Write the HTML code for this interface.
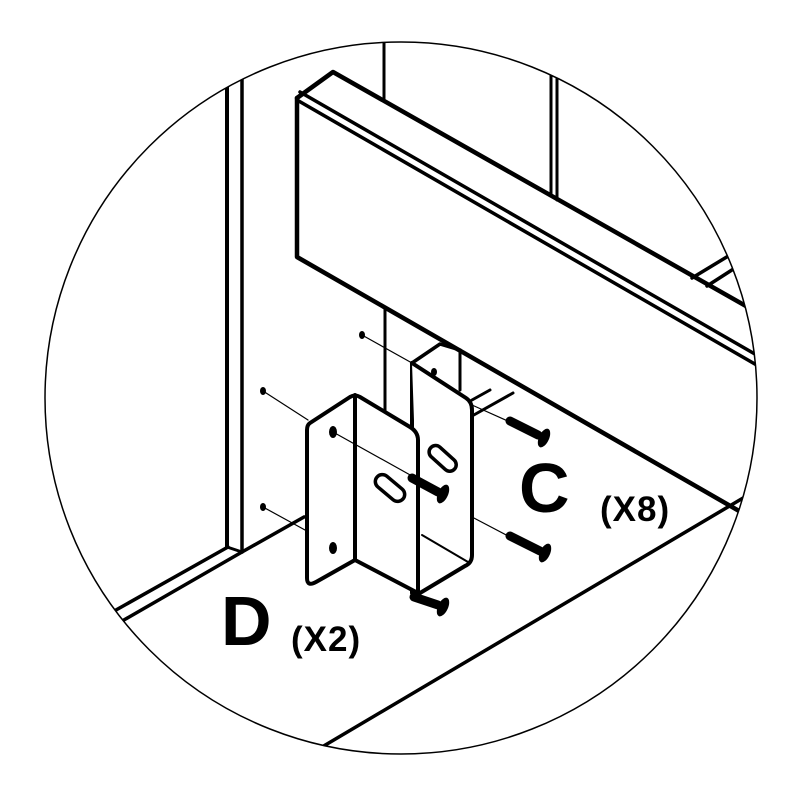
<!DOCTYPE html>
<html><head><style>html,body{margin:0;padding:0;background:#fff}svg{display:block}</style></head>
<body>
<svg width="800" height="800" viewBox="0 0 800 800" xmlns="http://www.w3.org/2000/svg">
<defs><clipPath id="c"><circle cx="401" cy="398" r="356"/></clipPath></defs>
<rect width="800" height="800" fill="#fff"/>
<g clip-path="url(#c)" stroke="#000" fill="none" stroke-linecap="round" stroke-linejoin="round">
  <line x1="227" y1="30" x2="227" y2="547" stroke-width="4"/>
  <line x1="242" y1="30" x2="242" y2="552" stroke-width="3.5"/>
  <line x1="227" y1="547" x2="242" y2="552" stroke-width="3"/>
  <line x1="228" y1="547" x2="100" y2="619" stroke-width="3.5"/>
  <line x1="242" y1="552" x2="110" y2="628" stroke-width="3.5"/>
  <line x1="242" y1="552" x2="304" y2="517" stroke-width="3.5"/>
  <line x1="384" y1="30" x2="384" y2="101" stroke-width="3"/>
  <line x1="551" y1="30" x2="551" y2="196" stroke-width="3"/>
  <line x1="557" y1="30" x2="557" y2="200" stroke-width="3"/>
  <path d="M297,98 L333,72 L760,314" stroke-width="4.5"/>
  <line x1="300" y1="92" x2="760" y2="357" stroke-width="3.5"/>
  <line x1="297" y1="100" x2="760" y2="367" stroke-width="3.5"/>
  <path d="M297,98 L297,257 L760,523" stroke-width="4.5"/>
  <line x1="692" y1="278" x2="730" y2="255" stroke-width="3.5"/>
  <line x1="707" y1="286" x2="735" y2="268" stroke-width="3.5"/>
  <line x1="300" y1="760" x2="760" y2="488" stroke-width="3.5"/>
  <line x1="385" y1="307" x2="385" y2="412" stroke-width="3"/>
  <line x1="460" y1="350" x2="460" y2="390" stroke-width="3"/>
  <line x1="472" y1="400" x2="490" y2="390" stroke-width="3"/>
  <line x1="472" y1="416" x2="513" y2="393" stroke-width="3"/>
</g>
<circle cx="401" cy="398" r="356" fill="none" stroke="#000" stroke-width="1.5"/>
<g stroke="#000" fill="none" stroke-linecap="round" stroke-linejoin="round">
  <line x1="362" y1="335" x2="412" y2="363" stroke-width="1.2"/>
  <line x1="263" y1="391" x2="308" y2="420" stroke-width="1.2"/>
  <line x1="263" y1="507" x2="305" y2="530" stroke-width="1.2"/>
  <line x1="472" y1="405" x2="510" y2="422" stroke-width="1.2"/>
  <line x1="472" y1="517" x2="510" y2="537" stroke-width="1.2"/>
  <path d="M412,363 L440,344 L460,350" stroke-width="3.5"/>
  <path d="M412,363 L412,593" stroke-width="4" fill="#fff"/>
  <path d="M412,363 L466,398 Q472,402 472,410 L472,555 Q472,563 465,566 L420,593" stroke-width="4" fill="#fff"/>
  <line x1="422" y1="535" x2="468" y2="562" stroke-width="2"/>
  <rect x="427" y="452" width="32" height="13" rx="6.5" transform="rotate(42 443 458)" stroke-width="3.5"/>
  <ellipse cx="434" cy="372" rx="3" ry="4" fill="#000" stroke="none"/>
  <path d="M310,423 L350,397 Q355,394 360,397 L410,427 Q418,432 418,440 L418,593 L355,560 L316,582 Q307,587 307,578 L307,430 Q307,425 310,423 Z" fill="#fff" stroke-width="4"/>
  <line x1="355" y1="395" x2="355" y2="560" stroke-width="4"/>
  <rect x="373" y="481" width="34" height="14" rx="7" transform="rotate(40 390 488)" stroke-width="3.5"/>
  <line x1="333" y1="432" x2="412" y2="476" stroke-width="1.2"/>
  <ellipse cx="333" cy="432" rx="4" ry="6" fill="#000" stroke="none"/>
  <ellipse cx="333" cy="548" rx="4" ry="6" fill="#000" stroke="none"/>
  <ellipse cx="362" cy="335" rx="3" ry="4" fill="#000" stroke="none"/>
  <ellipse cx="263" cy="391" rx="3" ry="4" fill="#000" stroke="none"/>
  <ellipse cx="263" cy="507" rx="3" ry="4" fill="#000" stroke="none"/>
  <g stroke-width="9"><line x1="510" y1="421" x2="538" y2="435"/><line x1="510" y1="536" x2="540" y2="551"/>
  <line x1="412" y1="478" x2="438" y2="492"/><line x1="414" y1="597" x2="438" y2="605"/></g>
  <ellipse cx="544" cy="438" rx="5" ry="10" transform="rotate(25 544 438)" fill="#000" stroke="none"/>
  <ellipse cx="545" cy="553" rx="5" ry="10" transform="rotate(25 545 553)" fill="#000" stroke="none"/>
  <ellipse cx="443" cy="494" rx="5" ry="10" transform="rotate(25 443 494)" fill="#000" stroke="none"/>
  <ellipse cx="443" cy="607" rx="5" ry="10" transform="rotate(25 443 607)" fill="#000" stroke="none"/>
</g>
<g font-family="'Liberation Sans', sans-serif" font-weight="bold" fill="#000">
  <text x="519" y="512" font-size="70">C</text>
  <text x="600" y="521" font-size="35" letter-spacing="1">(X8)</text>
  <text x="221" y="645" font-size="70">D</text>
  <text x="291" y="651" font-size="35" letter-spacing="1">(X2)</text>
</g>
</svg>
</body></html>
